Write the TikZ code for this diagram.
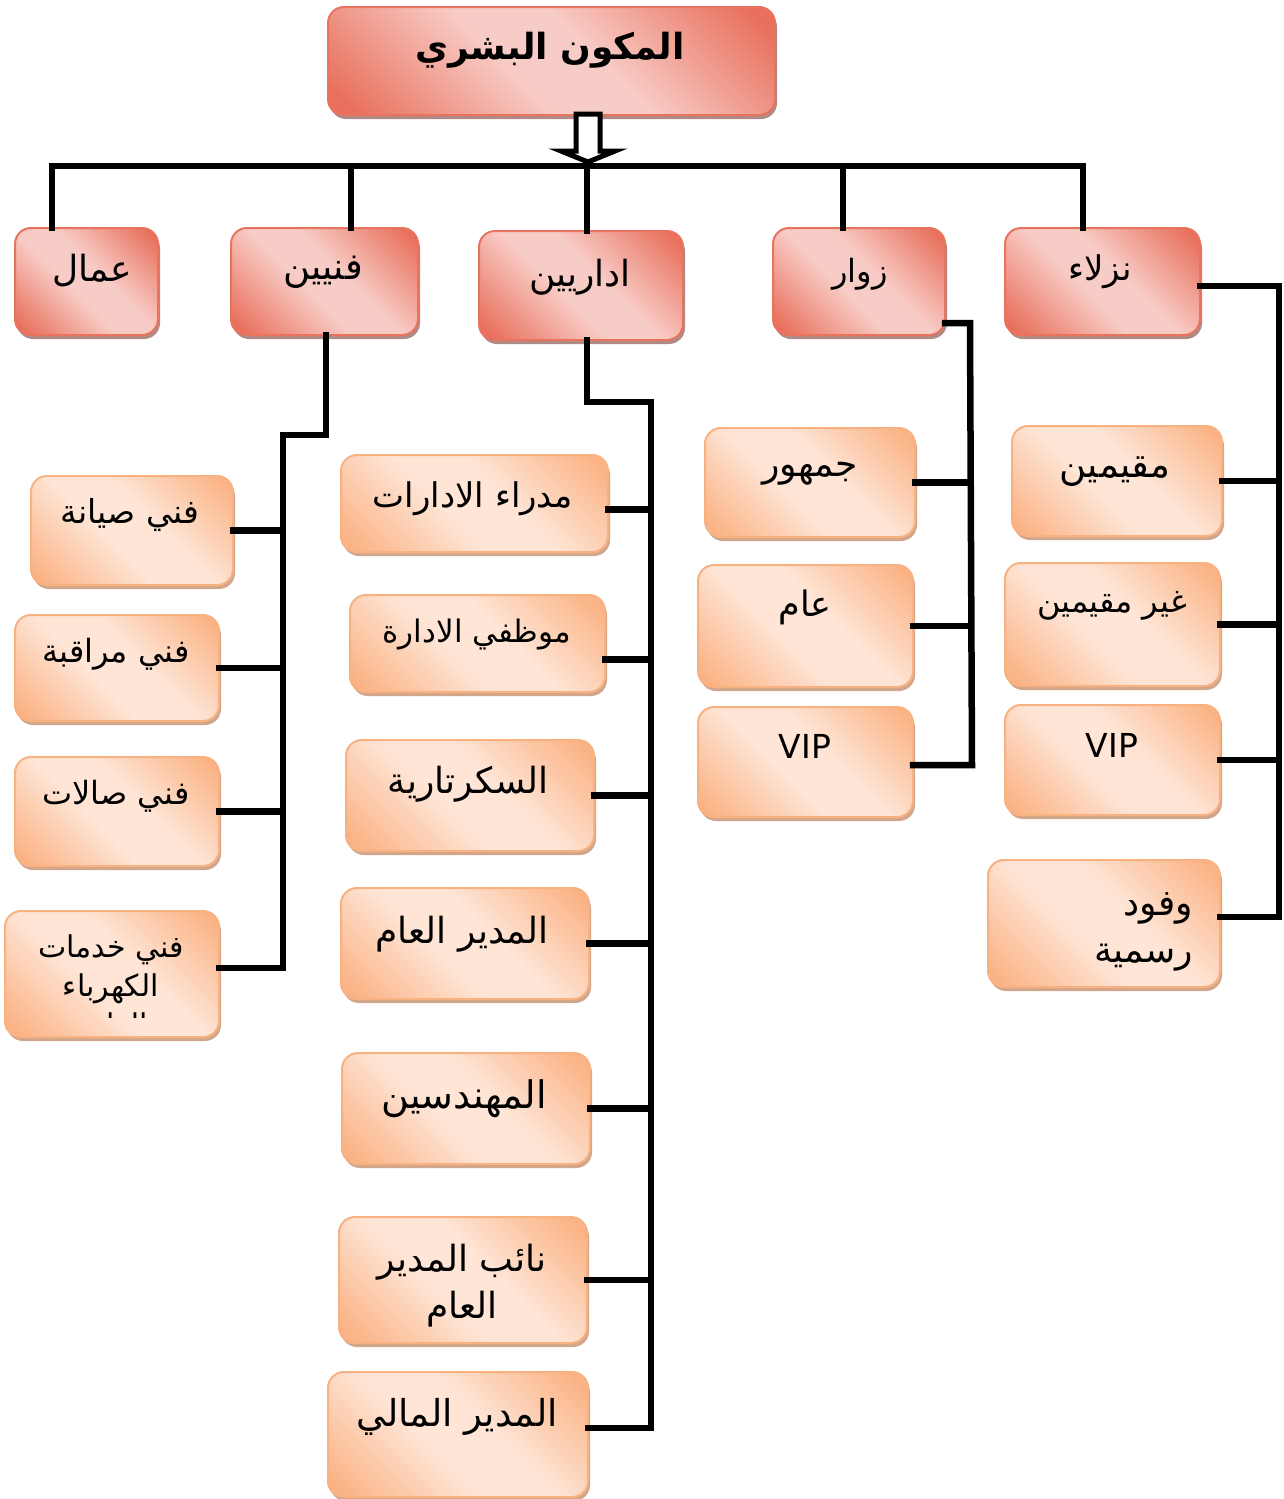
\documentclass[tikz,border=0pt]{standalone}
\usepackage{fontspec}
\setmainfont{DejaVu Sans}
\newfontfamily\arabicfont[Script=Arabic]{DejaVu Sans}
\TeXXeTstate=1
\usetikzlibrary{shadows}

\definecolor{rdark}{HTML}{E8705C}
\definecolor{rlight}{HTML}{F8CCC6}
\definecolor{rborder}{HTML}{E8735F}
\definecolor{rshadow}{HTML}{B08A86}
\definecolor{odark}{HTML}{FBB385}
\definecolor{olight}{HTML}{FEE5D6}
\definecolor{oborder}{HTML}{F8B282}
\definecolor{oshadow}{HTML}{D2A68A}

\pgfdeclarehorizontalshading{redsh}{100bp}{color(0bp)=(rdark); color(18bp)=(rdark); color(44bp)=(rlight); color(56bp)=(rlight); color(82bp)=(rdark); color(100bp)=(rdark)}
\pgfdeclarehorizontalshading{orsh}{100bp}{color(0bp)=(odark); color(18bp)=(odark); color(43bp)=(olight); color(57bp)=(olight); color(82bp)=(odark); color(100bp)=(odark)}

\newcommand{\bx}[6]{\node[#1, minimum width={#5pt-#3pt}, minimum height={#6pt-#4pt}] (#2) at ({(#3+#5)/2},{(#4+#6)/2}) {};}

\tikzset{
  boxbase/.style={rounded corners=16pt, line width=2pt, inner sep=0pt, outer sep=0pt, shading angle=45},
  redbox/.style={boxbase, draw=rborder, shading=redsh,
    drop shadow={shadow xshift=2pt, shadow yshift=-4pt, fill=rshadow, opacity=1}},
  orbox/.style={boxbase, draw=oborder, shading=orsh,
    drop shadow={shadow xshift=2pt, shadow yshift=-4pt, fill=oshadow, opacity=1}},
  lbl/.style={inner sep=0pt, yshift=-4pt, font=\arabicfont\fontsize{#1}{#1}\selectfont, text=black},
  lbl/.default=34,
  ttl/.style={inner sep=0pt, yshift=-4pt, font=\arabicfont\bfseries\fontsize{36}{40}\selectfont},
  conn/.style={line width=6.5pt, draw=black, line join=miter, line cap=rect},
}

\begin{document}
\begin{tikzpicture}[x=1pt,y=-1pt]
\useasboundingbox[fill=white] (0,0) rectangle (1283,1499);

\coordinate (jA) at (52,166);
\coordinate (jF) at (351,166);
\coordinate (jI) at (587,166);
\coordinate (jZ) at (843,166);
\coordinate (jN) at (1083,166);

% ---- top boxes ----
\bx{redbox}{title}{328}{7}{775}{115}
\bx{redbox}{amal}{15}{228}{158}{335}
\bx{redbox}{fan}{231}{228}{418}{335}
\bx{redbox}{idr}{479}{231}{683}{340}
\bx{redbox}{zuw}{773}{228}{945}{335}
\bx{redbox}{nuz}{1005}{228}{1200}{335}

% ---- children ----
\bx{orbox}{sy}{31}{476}{233}{585}
\bx{orbox}{mr}{15}{615}{219}{721}
\bx{orbox}{sl}{15}{757}{219}{866}
\bx{orbox}{kh}{5}{911}{219}{1037}

\bx{orbox}{md}{341}{455}{608}{552}
\bx{orbox}{mw}{350}{595}{605}{692}
\bx{orbox}{sk}{346}{740}{594}{851}
\bx{orbox}{ma}{341}{888}{589}{999}
\bx{orbox}{mh}{342}{1053}{590}{1164}
\bx{orbox}{na}{339}{1217}{587}{1343}
\bx{orbox}{mm}{328}{1372}{588}{1497}

\bx{orbox}{jm}{705}{428}{915}{537}
\bx{orbox}{am}{698}{565}{913}{687}
\bx{orbox}{vz}{698}{707}{913}{817}

\bx{orbox}{mq}{1012}{426}{1222}{536}
\bx{orbox}{gm}{1005}{563}{1220}{686}
\bx{orbox}{vn}{1005}{705}{1220}{815}
\bx{orbox}{wf}{988}{860}{1220}{987}

% ---- bus ----
\draw[conn] (jA |- amal.north) -- (jA) -- (jN) -- (jN |- nuz.north);
\draw[conn] (jF) -- (jF |- fan.north);
\draw[conn] (jI) -- (jI |- idr.north);
\draw[conn] (jZ) -- (jZ |- zuw.north);

% hollow arrow from title
\coordinate (aT) at (588,114);
\draw[line width=5pt, fill=white, line join=miter]
  ([xshift=-12pt]aT) -- ([xshift=12pt]aT) -- ([xshift=12pt,yshift=-37pt]aT)
  -- ([xshift=27pt,yshift=-37pt]aT) -- ([yshift=-48pt]aT) -- ([xshift=-27pt,yshift=-37pt]aT)
  -- ([xshift=-12pt,yshift=-37pt]aT) -- cycle;

% ---- fanniyin subtree ----
\coordinate (fA) at (326,435);
\coordinate (fB) at (283,435);
\coordinate (fC) at (283,968);
\draw[conn] (fan.south -| fA) -- (fA) -- (fB) -- (fC) -- (fC -| kh.east);
\draw[conn] (sy.east) -- (sy.east -| fB);
\draw[conn] (mr.east) -- (mr.east -| fB);
\draw[conn] (sl.east) -- (sl.east -| fB);

% ---- idariyin subtree ----
\coordinate (iA) at (587,402);
\coordinate (iB) at (651,402);
\coordinate (iC) at (651,1428);
\draw[conn] (idr.south -| iA) -- (iA) -- (iB) -- (iC) -- (iC -| mm.east);
\draw[conn] ([yshift=-6pt]md.east) -- ([yshift=-6pt]md.east -| iB);
\draw[conn] ([yshift=-16pt]mw.east) -- ([yshift=-16pt]mw.east -| iB);
\draw[conn] (sk.east) -- (sk.east -| iB);
\draw[conn] (ma.east) -- (ma.east -| iB);
\draw[conn] (mh.east) -- (mh.east -| iB);
\draw[conn] (na.east) -- (na.east -| iB);

% ---- zuwwar subtree ----
\coordinate (zA) at (970,323);
\coordinate (zC) at (972,765);
\draw[conn] (zuw.east |- zA) -- (zA) -- (zC) -- (zC -| vz.east);
\draw[conn] (jm.east) -- (jm.east -| zA);
\draw[conn] (am.east) -- (am.east -| zA);

% ---- nuzala subtree ----
\coordinate (nA) at (1279,286);
\coordinate (nC) at (1279,917);
\draw[conn] (nuz.east |- nA) -- (nA) -- (nC) -- (nC -| wf.east);
\draw[conn] (mq.east) -- (mq.east -| nA);
\draw[conn] (gm.east) -- (gm.east -| nA);
\draw[conn] (vn.east) -- (vn.east -| nA);

% ---- texts ----
\node[ttl] (title-t) at (550,46) {\beginR المكون البشري\endR};
\node[lbl=36] (amal-t) at (92,267) {\beginR عمال\endR};
\node[lbl=37] (fan-t) at (323,268) {\beginR فنيين\endR};
\node[lbl=36] (idr-t) at (580,273) {\beginR اداريين\endR};
\node[lbl=32] (zuw-t) at (860,270) {\beginR زوار\endR};
\node[lbl=34] (nuz-t) at (1100,268) {\beginR نزلاء\endR};

\node[lbl=33] (sy-t) at (130,511) {\beginR فني صيانة\endR};
\node[lbl=32] (mr-t) at (116,650) {\beginR فني مراقبة\endR};
\node[lbl=32] (sl-t) at (116,792) {\beginR فني صالات\endR};
\begin{scope}
  \clip (kh.north west) rectangle (219,1017);
  \node[lbl=30, align=center, font=\arabicfont\fontsize{30}{39}\selectfont, anchor=north] (kh-t) at (111,930)
    {\beginR فني خدمات\endR\\\beginR الكهرباء\endR\\\beginR العامة\endR};
\end{scope}

\node[lbl=34] (md-t) at (473,495) {\beginR مدراء الادارات\endR};
\node[lbl=31] (mw-t) at (477,630) {\beginR موظفي الادارة\endR};
\node[lbl=36] (sk-t) at (468,780) {\beginR السكرتارية\endR};
\node[lbl=36] (ma-t) at (462,930) {\beginR المدير العام\endR};
\node[lbl=38] (mh-t) at (464,1095) {\beginR المهندسين\endR};
\node[lbl=36, align=center, font=\arabicfont\fontsize{36}{47}\selectfont] (na-t) at (462,1282) {\beginR نائب المدير\endR\\\beginR العام\endR};
\node[lbl=37] (mm-t) at (457,1413) {\beginR المدير المالي\endR};

\node[lbl=36] (jm-t) at (810,470) {\beginR جمهور\endR};
\node[lbl=35] (am-t) at (805,603) {\beginR عام\endR};
\node[lbl=33] (vz-t) at (805,742) {VIP};

\node[lbl=37] (mq-t) at (1115,468) {\beginR مقيمين\endR};
\node[lbl=32] (gm-t) at (1112,602) {\beginR غير مقيمين\endR};
\node[lbl=33] (vn-t) at (1112,741) {VIP};
\node[lbl=36, align=right, font=\arabicfont\fontsize{36}{47}\selectfont, anchor=east] (wf-t) at (1193,928) {\beginR وفود\endR\\\beginR رسمية\endR};
\end{tikzpicture}
\end{document}
